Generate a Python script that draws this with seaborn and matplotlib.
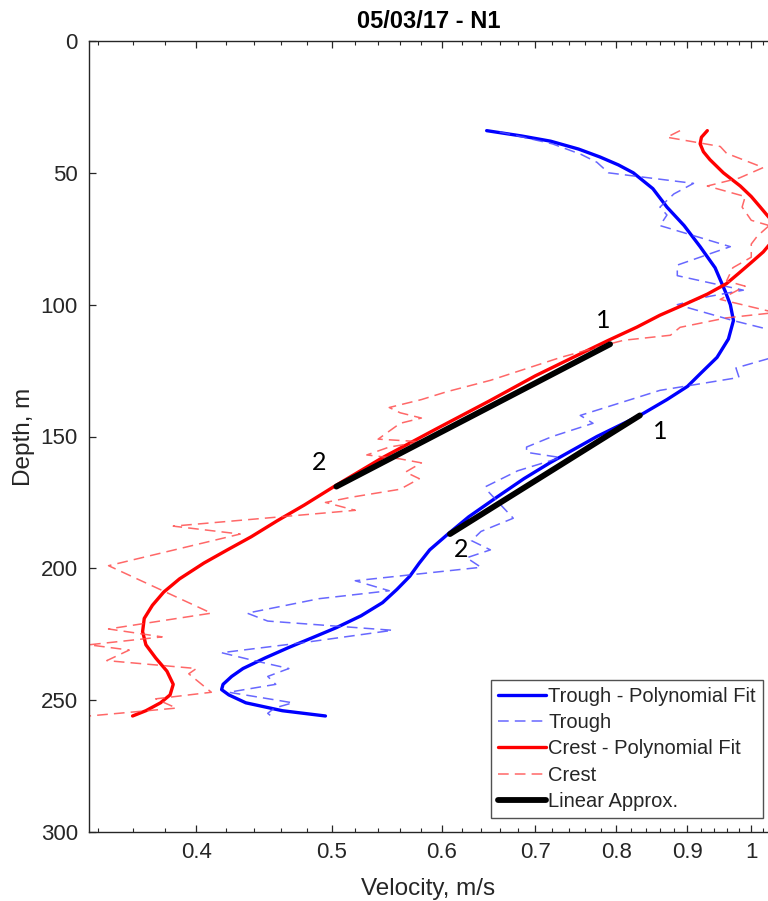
import numpy as np
import pandas as pd
import matplotlib
matplotlib.use("Agg")
import matplotlib.pyplot as plt
import seaborn as sns
from matplotlib.ticker import FixedLocator, NullFormatter

# ---------------- data ----------------
trough_fit_depth = [34, 36, 38, 41, 44, 47, 50, 56, 63, 70, 78, 86, 95, 100, 106, 113, 120, 126,
                    131, 136, 142, 150, 160, 166, 173, 180.5, 187, 193, 198, 203, 208, 213, 218,
                    222.5, 226, 230, 234, 238, 241, 244, 246, 248, 251, 254, 256]
trough_fit_vel = [0.646, 0.684, 0.718, 0.752, 0.779, 0.803, 0.823, 0.85, 0.870, 0.895, 0.919,
                  0.942, 0.958, 0.966, 0.971, 0.963, 0.945, 0.92, 0.900, 0.87, 0.832, 0.775,
                  0.717, 0.687, 0.657, 0.627, 0.606, 0.588, 0.578, 0.569, 0.557, 0.544, 0.525,
                  0.504, 0.486, 0.466, 0.448, 0.432, 0.424, 0.418, 0.417, 0.422, 0.434, 0.461,
                  0.495]

trough_depth = [34.5, 36, 39, 43, 46, 50, 54, 58, 63, 66, 70, 78, 85, 89, 94.5, 97, 100, 106,
                110, 113, 118.5, 124, 127.6, 132.5, 142, 145, 150, 154, 156, 158, 163, 169,
                171, 181, 186, 189.5, 193, 196, 199.6, 204.7, 206, 208.5, 211.5, 217, 220,
                223.5, 228, 232, 235, 238, 241, 244, 247, 251, 253, 255, 257]
trough_vel = [0.66, 0.68, 0.72, 0.755, 0.775, 0.79, 0.909, 0.88, 0.86, 0.87, 0.86, 0.966, 0.885,
              0.885, 0.987, 0.93, 0.885, 0.97, 1.04, 1.08, 1.06, 0.975, 0.98, 0.86, 0.754, 0.77,
              0.72, 0.69, 0.69, 0.73, 0.68, 0.645, 0.648, 0.675, 0.64, 0.63, 0.65, 0.625, 0.64,
              0.52, 0.53, 0.55, 0.49, 0.435, 0.45, 0.553, 0.48, 0.417, 0.44, 0.466, 0.45, 0.456,
              0.422, 0.469, 0.455, 0.45, 0.455]

crest_fit_depth = [34, 36.5, 39, 42, 45, 50, 55, 59, 63, 67, 72, 76, 80, 84, 88, 92, 96, 100,
                   104, 108.5, 113.5, 120, 127, 136.5, 147, 158, 169, 176, 182, 188, 193, 198,
                   204, 209, 214, 219, 224, 229, 234, 239, 244, 248, 251, 254, 256]
crest_fit_vel = [0.93, 0.921, 0.919, 0.924, 0.934, 0.955, 0.982, 1.0, 1.015, 1.03, 1.04, 1.035,
                 1.02, 1.0, 0.98, 0.96, 0.93, 0.895, 0.86, 0.828, 0.79, 0.745, 0.70, 0.649,
                 0.595, 0.544, 0.502, 0.478, 0.457, 0.438, 0.421, 0.405, 0.389, 0.379, 0.372,
                 0.367, 0.366, 0.368, 0.374, 0.381, 0.385, 0.383, 0.377, 0.368, 0.360]

crest_depth = [34, 36.5, 40, 42.6, 48, 52, 55, 59, 63, 68, 70, 74, 77, 82, 86, 91, 93, 98, 103,
               105, 108.6, 111.6, 113.5, 115, 120, 128.7, 133, 136, 139, 141, 143, 145, 151,
               152, 154, 157, 158.5, 160, 163.5, 166, 170, 173, 175, 178, 184, 187, 199, 217,
               223, 226, 229, 231, 235, 238, 240, 247, 249.5, 253, 256]
crest_vel = [0.889, 0.87, 0.95, 0.96, 1.02, 0.98, 0.93, 0.99, 0.985, 1.0, 1.03, 1.01, 1.0, 1.0,
             0.97, 0.96, 0.99, 0.95, 1.04, 0.96, 0.889, 0.875, 0.81, 0.79, 0.73, 0.65, 0.605,
             0.58, 0.55, 0.56, 0.58, 0.56, 0.54, 0.58, 0.55, 0.53, 0.56, 0.58, 0.565, 0.578,
             0.56, 0.517, 0.495, 0.52, 0.385, 0.43, 0.346, 0.41, 0.346, 0.378, 0.335, 0.358,
             0.345, 0.40, 0.395, 0.41, 0.374, 0.387, 0.335]

lin_trough_depth = [142, 187]
lin_trough_vel = [0.832, 0.608]
lin_crest_depth = [115, 169]
lin_crest_vel = [0.792, 0.504]

marker_labels = ["1", "2", "1", "2"]
marker_vel = [0.783, 0.49, 0.86, 0.619]
marker_depth = [106, 160, 148, 193]

x_major = [0.4, 0.5, 0.6, 0.7, 0.8, 0.9, 1.0]
x_major_labels = ["0.4", "0.5", "0.6", "0.7", "0.8", "0.9", "1"]
y_major = [0, 50, 100, 150, 200, 250, 300]

title = "05/03/17 - N1"
xlabel = "Velocity, m/s"
ylabel = "Depth, m"

# ---------------- figure ----------------
sns.set_style("white")
plt.rcParams["font.family"] = ["Liberation Sans", "DejaVu Sans"]

W, H = 768, 901
fig = plt.figure(figsize=(W / 100, H / 100), dpi=100)
ax_l, ax_r, ax_t, ax_b = 89, 768, 41, 832
ax = fig.add_axes([ax_l / W, (H - ax_b) / H, (ax_r - ax_l) / W, (ax_b - ax_t) / H])

def frame(d, v):
    return pd.DataFrame({"depth": d, "vel": v})

common = dict(x="vel", y="depth", sort=False, estimator=None, ax=ax)
sns.lineplot(data=frame(trough_fit_depth, trough_fit_vel), color="#0000ff", lw=2.4,
             label="Trough - Polynomial Fit", **common)
sns.lineplot(data=frame(trough_depth, trough_vel), color="#4d4dff", lw=1.1, alpha=0.85,
             linestyle=(0, (7, 4)), label="Trough", **common)
sns.lineplot(data=frame(crest_fit_depth, crest_fit_vel), color="#ff0000", lw=2.4,
             label="Crest - Polynomial Fit", **common)
sns.lineplot(data=frame(crest_depth, crest_vel), color="#ff4d4d", lw=1.1, alpha=0.85,
             linestyle=(0, (7, 4)), label="Crest", **common)
sns.lineplot(data=frame(lin_crest_depth, lin_crest_vel), color="black", lw=4.2,
             label="Linear Approx.", **common)
sns.lineplot(data=frame(lin_trough_depth, lin_trough_vel), color="black", lw=4.2,
             legend=False, **common)

for lab, v, d in zip(marker_labels, marker_vel, marker_depth):
    ax.text(v, d, lab, fontsize=18, family=["Lato", "DejaVu Sans"], ha="center",
            va="center", color="black")

ax.set_xscale("log")
ax.set_xlim(0.335, 1.028)
ax.set_ylim(300, 0)
ax.xaxis.set_major_locator(FixedLocator(x_major))
ax.set_xticklabels(x_major_labels)
ax.xaxis.set_minor_locator(FixedLocator(list(np.arange(0.34, 1.03, 0.02))))
ax.xaxis.set_minor_formatter(NullFormatter())
ax.set_yticks(y_major)

spine_col = "#262626"
for s in ["left", "top", "bottom"]:
    ax.spines[s].set_color(spine_col)
    ax.spines[s].set_linewidth(1.0)
ax.spines["right"].set_visible(False)

ax.tick_params(axis="both", which="major", direction="in", length=5, width=0.9,
               colors=spine_col, labelsize=16, labelcolor="#262626")
ax.tick_params(axis="x", which="both", top=True, bottom=True)
ax.tick_params(axis="x", which="minor", direction="in", length=3, width=0.8, colors=spine_col)
ax.tick_params(axis="x", which="major", pad=7)
ax.tick_params(axis="y", which="major", left=True, right=False, pad=8)

ax.set_title(title, fontsize=17, fontweight="bold", pad=9, color="black")
ax.set_xlabel(xlabel, fontsize=17.5, color="#262626", labelpad=11)
ax.set_ylabel(ylabel, fontsize=17.5, color="#262626", labelpad=4)

leg = ax.legend(loc="lower right", bbox_to_anchor=((763 - ax_l) / (ax_r - ax_l), (ax_b - 818) / (ax_b - ax_t)),
                fontsize=14.5, frameon=True, fancybox=False, edgecolor="#262626",
                handlelength=2.4, handletextpad=0.1, labelspacing=0.36, borderpad=0.35,
                borderaxespad=0.0)
leg.get_frame().set_linewidth(1.0)

fig.savefig("out.png", dpi=100)
